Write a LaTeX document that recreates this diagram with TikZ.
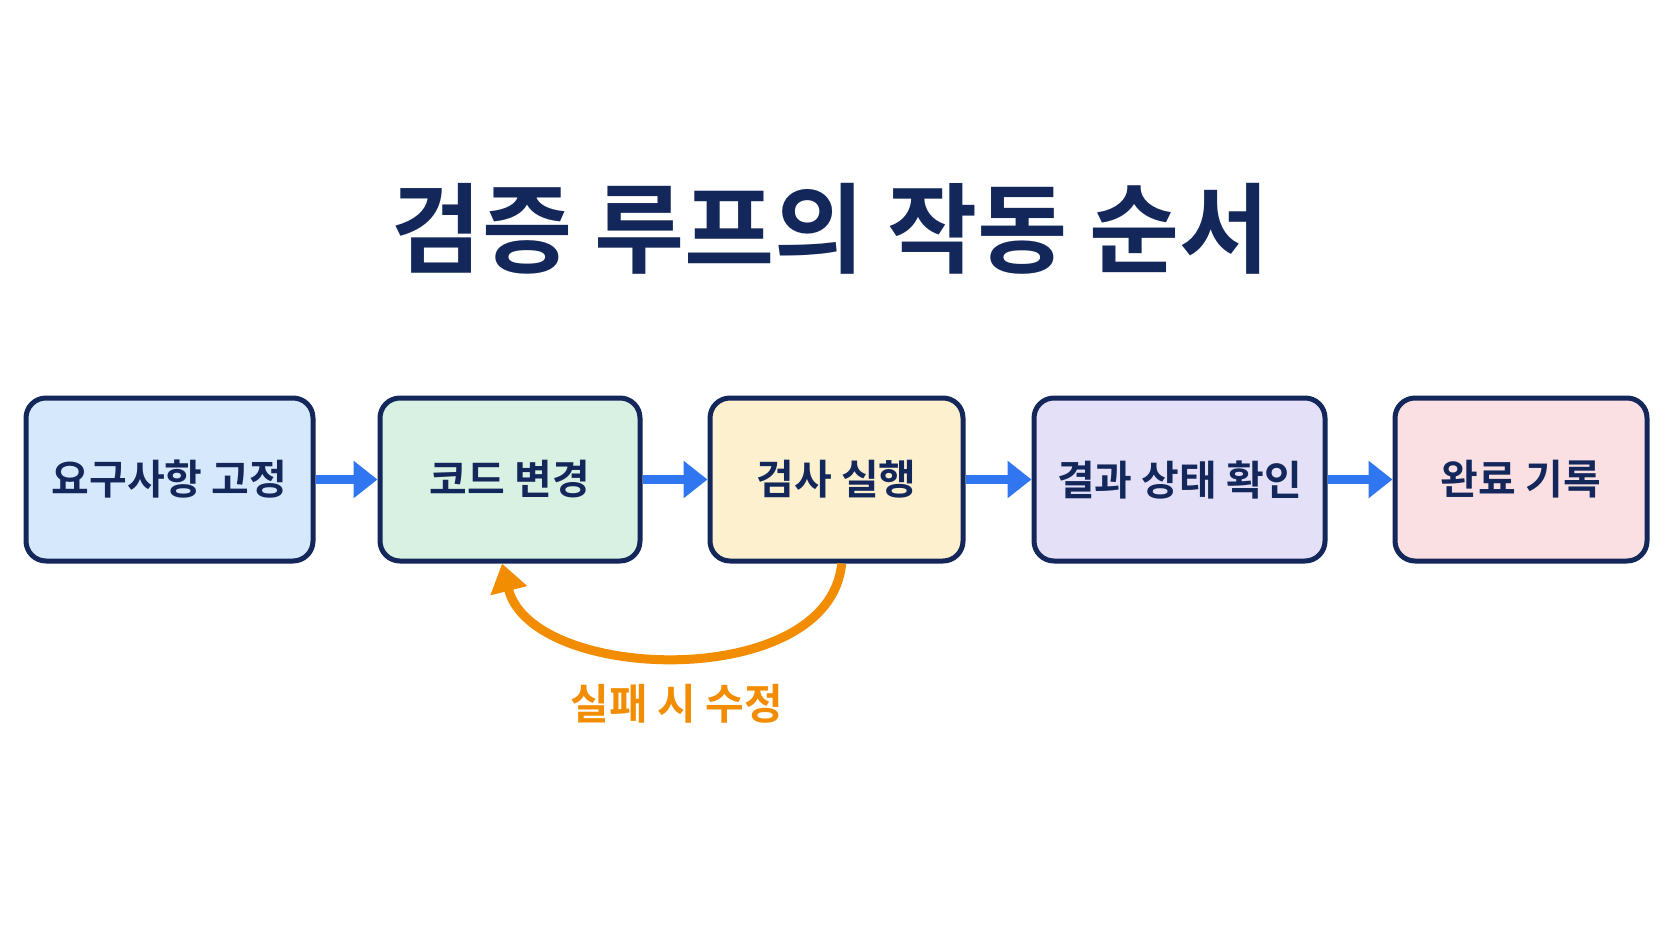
\documentclass[tikz,border=0pt]{standalone}
\usepackage{fontspec}
\setmainfont{Noto Sans CJK KR}[BoldFont={* Bold}]
\usetikzlibrary{arrows.meta,calc}
\definecolor{navy}{HTML}{13275A}
\definecolor{barrow}{HTML}{2F76F0}
\definecolor{orng}{HTML}{F28C00}
\definecolor{fa}{HTML}{D6E8FC}
\definecolor{fb}{HTML}{D8F1E2}
\definecolor{fc}{HTML}{FDF0CE}
\definecolor{fd}{HTML}{E3E0F8}
\definecolor{fe}{HTML}{FBE0E3}
\begin{document}
\begin{tikzpicture}[x=1pt,y=-1pt,
  box/.style={draw=navy,line width=5pt,rounded corners=20pt,minimum height=163pt,inner sep=0pt,font=\fontsize{41}{48}\selectfont\bfseries,text=navy},
  flow/.style={draw=barrow,line width=9pt,-{Triangle[width=36pt,length=24pt]}}]
\useasboundingbox[fill=white] (0,0) rectangle (1672,941);
\node[font=\fontsize{98}{110}\selectfont\bfseries,text=navy] (title) at (831,229) {검증 루프의 작동 순서};
\node[box,fill=fa,minimum width=287pt] (a) at (169.5,479.5) {요구사항 고정};
\node[box,fill=fb,minimum width=260pt] (b) at (510,479.5) {코드 변경};
\node[box,fill=fc,minimum width=253pt] (c) at (836.5,479.5) {검사 실행};
\node[box,fill=fd,minimum width=291pt] (d) at (1179.5,479.5) {결과 상태 확인};
\node[box,fill=fe,minimum width=252pt] (e) at (1521,479.5) {완료 기록};
\draw[flow] (a.east) -- (b.west);
\draw[flow] (b.east) -- (c.west);
\draw[flow] (c.east) -- (d.west);
\draw[flow] (d.east) -- (e.west);
\coordinate (s) at ($(c.south west)!0.52!(c.south east)$);
\coordinate (t) at ($(b.south west)!0.47!(b.south east)$);
\draw[orng,line width=9pt,-{Triangle[width=36pt,length=28pt]}] (s) .. controls ++(-12,128) and ++(30,120) .. (t);
\node[font=\fontsize{42}{48}\selectfont\bfseries,text=orng] (lbl) at (677,704) {실패 시 수정};
\end{tikzpicture}
\end{document}
